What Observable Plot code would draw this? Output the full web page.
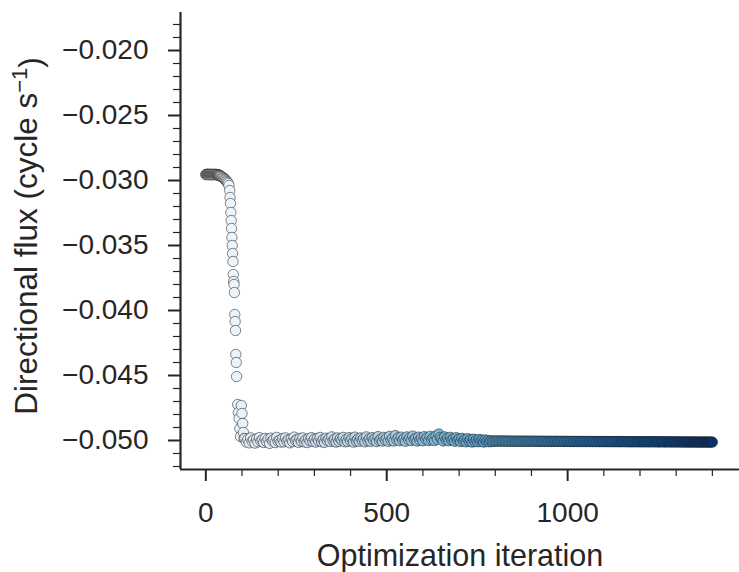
<!DOCTYPE html>
<html><head><meta charset="utf-8">
<script src="https://cdn.jsdelivr.net/npm/d3@7"></script>
<script src="https://cdn.jsdelivr.net/npm/@observablehq/plot@0.6"></script>
<style>body{margin:0;background:#fff;}</style>
</head><body><div id="chart"></div>
<script>
// Transient phase (iteration, flux)
const transientIter = [0,1,2,3,4,5,6,7,8,9,10,11,12,13,14,15,16,17,18,19,20,21,22,23,24,25,26,27,28,29,30,
  31,32,33,34,35,36,37,38,39,40,42,44,46,48,50,52,54,56,58,60,62,
  64,
  66,67,68,69,70,71,72,73,74,75,76,77,78,79,80,81,82,83,84,85,
  88,90,92,94,96,98,100,102,104,106];
const transientFlux = [-0.02954,-0.02954,-0.02954,-0.02953,-0.02953,-0.02954,-0.02954,-0.02954,-0.02954,-0.02954,
  -0.02954,-0.02954,-0.02953,-0.02954,-0.02954,-0.02954,-0.02954,-0.02954,-0.02954,-0.02954,
  -0.02954,-0.02954,-0.02954,-0.02954,-0.02954,-0.02954,-0.02954,-0.02954,-0.02954,-0.02954,-0.02954,
  -0.02955,-0.02955,-0.02956,-0.02957,-0.02958,-0.02959,-0.02960,-0.02962,-0.02963,-0.02965,
  -0.02968,-0.02972,-0.02975,-0.02980,-0.02985,-0.02990,-0.02995,-0.03002,-0.03008,-0.03015,-0.03023,
  -0.03038,
  -0.03077,-0.03131,-0.03177,-0.03246,-0.03308,-0.03369,-0.03438,-0.03500,-0.03562,-0.03623,-0.03723,-0.03777,-0.03800,-0.03862,-0.04031,-0.04085,-0.04154,-0.04338,-0.04400,-0.04508,
  -0.04723,-0.04785,-0.04831,-0.04908,-0.04969,-0.04731,-0.04792,-0.04869,-0.04938,-0.04985];

// Plateau phase: iterations 108, 112, ..., 1400
const plateauStart = 108;
const plateauStep = 4;
const plateauFlux = [
  -0.04985,-0.05012,-0.04992,-0.05018,-0.04980,-0.05006,-0.04995,-0.05020,-0.04988,-0.05010,
  -0.04978,-0.05004,-0.04996,-0.05015,-0.04984,-0.05008,-0.04990,-0.05022,-0.04982,-0.05002,
  -0.04992,-0.05016,-0.04976,-0.05006,-0.04998,-0.05012,-0.04986,-0.05010,-0.04980,-0.05004,
  -0.04994,-0.05018,-0.04988,-0.05008,-0.04974,-0.05000,-0.04992,-0.05014,-0.04984,-0.05006,
  -0.04980,-0.05010,-0.04996,-0.05016,-0.04986,-0.05002,-0.04978,-0.05008,-0.04990,-0.05012,
  -0.04984,-0.05004,-0.04976,-0.05010,-0.04994,-0.05014,-0.04982,-0.05000,-0.04988,-0.05008,
  -0.04972,-0.05002,-0.04990,-0.05012,-0.04980,-0.05006,-0.04986,-0.04998,-0.04976,-0.05010,
  -0.04992,-0.05008,-0.04978,-0.05000,-0.04984,-0.05012,-0.04974,-0.05004,-0.04990,-0.05006,
  -0.04980,-0.04998,-0.04986,-0.05010,-0.04972,-0.05002,-0.04988,-0.05006,-0.04978,-0.04996,
  -0.04984,-0.05008,-0.04970,-0.05000,-0.04990,-0.05004,-0.04976,-0.04996,-0.04982,-0.05006,
  -0.04968,-0.04998,-0.04984,-0.05004,-0.04962,-0.04994,-0.04980,-0.05002,-0.04974,-0.04996,
  -0.04986,-0.05006,-0.04972,-0.04994,-0.04980,-0.05000,-0.04966,-0.04992,-0.04984,-0.05004,
  -0.04974,-0.04996,-0.04982,-0.05002,-0.04970,-0.04990,-0.04978,-0.05000,-0.04968,-0.04994,
  -0.04980,-0.05000,-0.04964,-0.04990,-0.04950,-0.04976,-0.04986,-0.05004,-0.04972,-0.04994,
  -0.04982,-0.05002,-0.04976,-0.04996,-0.04986,-0.05006,-0.04978,-0.04998,-0.04988,-0.05008,
  -0.04984,-0.05004,-0.04992,-0.05010,-0.04986,-0.05006,-0.04994,-0.05012,-0.04990,-0.05008,
  -0.04996,-0.05010,-0.04992,-0.05006,-0.04998,-0.05012,-0.04996,-0.05008,-0.05000,-0.05010,
  -0.05002,-0.05008,-0.05004,
  -0.05004,-0.05005,-0.05004,-0.05005,-0.05004,-0.05005,-0.05005,-0.05004,-0.05005,-0.05005,
  -0.05005,-0.05005,-0.05006,-0.05005,-0.05005,-0.05006,-0.05005,-0.05006,-0.05005,-0.05006,
  -0.05006,-0.05005,-0.05006,-0.05006,-0.05006,-0.05005,-0.05006,-0.05006,-0.05006,-0.05006,
  -0.05006,-0.05007,-0.05006,-0.05006,-0.05007,-0.05006,-0.05007,-0.05006,-0.05007,-0.05007,
  -0.05007,-0.05006,-0.05007,-0.05007,-0.05007,-0.05006,-0.05007,-0.05007,-0.05007,-0.05007,
  -0.05007,-0.05007,-0.05008,-0.05007,-0.05007,-0.05008,-0.05007,-0.05008,-0.05007,-0.05008,
  -0.05008,-0.05007,-0.05008,-0.05008,-0.05008,-0.05007,-0.05008,-0.05008,-0.05008,-0.05008,
  -0.05008,-0.05008,-0.05009,-0.05008,-0.05008,-0.05009,-0.05008,-0.05008,-0.05009,-0.05008,
  -0.05009,-0.05008,-0.05009,-0.05009,-0.05008,-0.05009,-0.05009,-0.05009,-0.05008,-0.05009,
  -0.05009,-0.05009,-0.05009,-0.05010,-0.05009,-0.05009,-0.05010,-0.05009,-0.05009,-0.05010,
  -0.05010,-0.05009,-0.05010,-0.05010,-0.05009,-0.05010,-0.05010,-0.05010,-0.05009,-0.05010,
  -0.05010,-0.05010,-0.05010,-0.05011,-0.05010,-0.05010,-0.05010,-0.05011,-0.05010,-0.05010,
  -0.05011,-0.05010,-0.05011,-0.05010,-0.05011,-0.05011,-0.05010,-0.05011,-0.05011,-0.05011,
  -0.05011,-0.05011,-0.05011,-0.05012,-0.05011,-0.05011,-0.05012,-0.05011,-0.05011,-0.05012,
  -0.05012,-0.05011,-0.05012,-0.05012,-0.05012,-0.05011,-0.05012,-0.05012,-0.05012,-0.05012,
  -0.05012
];

// Axis ticks and labels
const xMajorTicks = [0, 500, 1000];
const xTickLabels = ["0", "500", "1000"];
const xMinorTicks = [100,200,300,400,600,700,800,900,1100,1200,1300,1400];
const yMajorTicks = [-0.050,-0.045,-0.040,-0.035,-0.030,-0.025,-0.020];
const yTickLabels = ["\u22120.050","\u22120.045","\u22120.040","\u22120.035","\u22120.030","\u22120.025","\u22120.020"];
const yMinorTicks = [-0.052,-0.051,-0.049,-0.048,-0.047,-0.046,-0.044,-0.043,-0.042,-0.041,-0.039,-0.038,-0.037,-0.036,-0.034,-0.033,-0.032,-0.031,-0.029,-0.028,-0.027,-0.026,-0.024,-0.023,-0.022,-0.021,-0.019,-0.018];
const xLabel = "Optimization iteration";
const yLabelMain = "Directional flux (cycle s";
const yLabelSup = "\u22121";
const yLabelEnd = ")";

const data = transientIter.map((it, i) => ({iter: it, flux: transientFlux[i]}))
  .concat(plateauFlux.map((f, i) => ({iter: plateauStart + plateauStep * i, flux: f})));

const xDom = [-70, 1475];
const yDom = [-0.052231, -0.017077];
const ink = "#262626";
const font = "'Liberation Sans', Arial, Helvetica, sans-serif";

const chart = Plot.plot({
  width: 739, height: 572,
  marginLeft: 180, marginRight: 0, marginTop: 12, marginBottom: 103,
  style: {fontFamily: font, fontSize: "28px", color: ink, background: "#fff", overflow: "visible"},
  x: {domain: xDom},
  y: {domain: yDom},
  color: {type: "linear", scheme: "blues", domain: [0, 1400]},
  marks: [
    Plot.axisY({ticks: yMinorTicks, tickSize: 7, strokeWidth: 1.2, tickFormat: () => "", label: null}),
    Plot.axisY({ticks: yMajorTicks, tickSize: 12, strokeWidth: 2, tickPadding: 20,
      tickFormat: d => yTickLabels[yMajorTicks.findIndex(v => Math.abs(v - d) < 1e-9)], label: null}),
    Plot.axisX({ticks: xMinorTicks, tickSize: 7, strokeWidth: 1.2, tickFormat: () => "", label: null}),
    Plot.axisX({ticks: xMajorTicks, tickSize: 12, strokeWidth: 2, tickPadding: 21,
      tickFormat: d => xTickLabels[xMajorTicks.indexOf(d)], label: null}),
    Plot.ruleX([xDom[0]], {stroke: ink, strokeWidth: 2.2}),
    Plot.ruleY([yDom[0]], {stroke: ink, strokeWidth: 2.2}),
    Plot.dot(data, {x: "iter", y: "flux", r: 5.2, fill: "iter", stroke: "#1e1e1e", strokeWidth: 0.6, strokeOpacity: 0.9})
  ]
});

const svg = d3.select(chart);
svg.append("text")
  .attr("x", 460).attr("y", 566)
  .attr("text-anchor", "middle")
  .attr("font-family", font).attr("font-size", 30.5).attr("fill", ink)
  .text(xLabel);
const yl = svg.append("text")
  .attr("transform", "translate(37,236) rotate(-90)")
  .attr("text-anchor", "middle")
  .attr("font-family", font).attr("font-size", 31.5).attr("fill", ink);
yl.append("tspan").text(yLabelMain);
yl.append("tspan").attr("dy", "-0.45em").attr("font-size", 22).text(yLabelSup);
yl.append("tspan").attr("dy", "0.45em").text(yLabelEnd);

document.getElementById("chart").appendChild(chart);
</script>
</body></html>
